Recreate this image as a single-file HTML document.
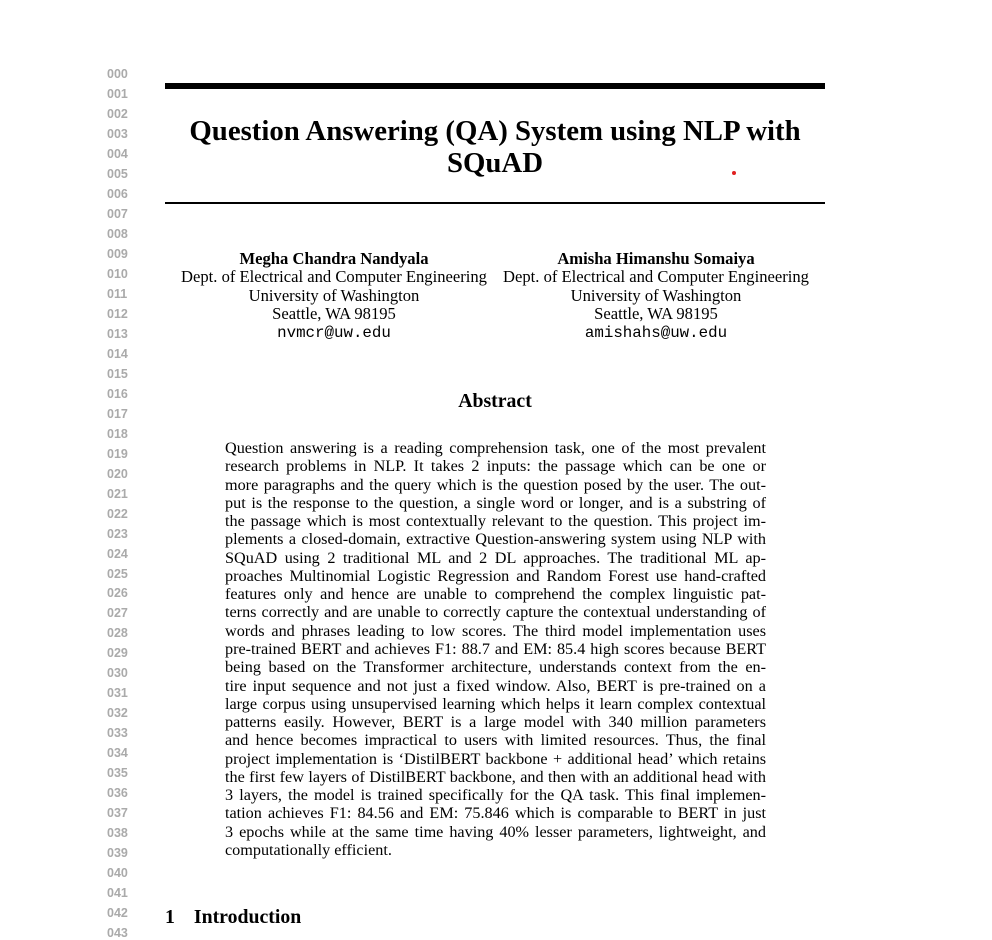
<!DOCTYPE html>
<html><head><meta charset="utf-8"><style>
body{margin:0;width:992px;height:931px;background:#fff;position:relative;overflow:hidden;font-family:"Liberation Serif",serif;color:#000}
.ln{position:absolute;left:107px;font:bold 12.5px "Liberation Sans",sans-serif;color:#aaa;line-height:14px}
.c{position:absolute;text-align:center;white-space:nowrap;line-height:20px;transform:translateX(-50%)}
.ab{position:absolute;left:225px;width:541px;font-size:16.2px;line-height:18px;text-align:justify;text-align-last:justify;white-space:nowrap}
.ab.last{text-align-last:left}
</style></head><body>
<div id="lines"></div>
<div style="position:absolute;left:165px;top:83px;width:660px;height:6px;background:#000"></div>
<div class="c" style="left:495px;top:115px;font-size:28.8px;font-weight:bold;line-height:32px">Question Answering (QA) System using NLP with<br>SQuAD</div>
<div style="position:absolute;left:732px;top:171px;width:4px;height:4px;border-radius:50%;background:#e02020"></div>
<div style="position:absolute;left:165px;top:202px;width:660px;height:1.5px;background:#000"></div>
<div class="c" style="left:334px;top:250px;font-size:16.6px;line-height:18.3px"><b>Megha Chandra Nandyala</b><br>Dept. of Electrical and Computer Engineering<br>University of Washington<br>Seattle, WA 98195<br><span style="font-family:'Liberation Mono',monospace;font-size:15.8px">nvmcr@uw.edu</span></div>
<div class="c" style="left:656px;top:250px;font-size:16.6px;line-height:18.3px"><b>Amisha Himanshu Somaiya</b><br>Dept. of Electrical and Computer Engineering<br>University of Washington<br>Seattle, WA 98195<br><span style="font-family:'Liberation Mono',monospace;font-size:15.8px">amishahs@uw.edu</span></div>
<div class="c" style="left:495px;top:391px;font-size:19.8px;font-weight:bold">Abstract</div>
<div id="abs"></div>
<div style="position:absolute;left:165px;top:906px;font-size:19.8px;font-weight:bold;line-height:22px;white-space:nowrap">1<span style="margin-left:19px">Introduction</span></div>
<script>
const L=document.getElementById('lines');
for(let i=0;i<=43;i++){const d=document.createElement('div');d.className='ln';


d.style.top=(75+i*19.98-8)+'px';d.textContent=String(i).padStart(3,'0');L.appendChild(d);}
const abs=["Question answering is a reading comprehension task, one of the most prevalent","research problems in NLP. It takes 2 inputs: the passage which can be one or","more paragraphs and the query which is the question posed by the user. The out-","put is the response to the question, a single word or longer, and is a substring of","the passage which is most contextually relevant to the question. This project im-","plements a closed-domain, extractive Question-answering system using NLP with","SQuAD using 2 traditional ML and 2 DL approaches. The traditional ML ap-","proaches Multinomial Logistic Regression and Random Forest use hand-crafted","features only and hence are unable to comprehend the complex linguistic pat-","terns correctly and are unable to correctly capture the contextual understanding of","words and phrases leading to low scores. The third model implementation uses","pre-trained BERT and achieves F1: 88.7 and EM: 85.4 high scores because BERT","being based on the Transformer architecture, understands context from the en-","tire input sequence and not just a fixed window. Also, BERT is pre-trained on a","large corpus using unsupervised learning which helps it learn complex contextual","patterns easily. However, BERT is a large model with 340 million parameters","and hence becomes impractical to users with limited resources. Thus, the final","project implementation is \u2018DistilBERT backbone + additional head\u2019 which retains","the first few layers of DistilBERT backbone, and then with an additional head with","3 layers, the model is trained specifically for the QA task. This final implemen-","tation achieves F1: 84.56 and EM: 75.846 which is comparable to BERT in just","3 epochs while at the same time having 40% lesser parameters, lightweight, and","computationally efficient."];
const A=document.getElementById('abs');
abs.forEach((t,i)=>{const d=document.createElement('div');d.className='ab'+(i==abs.length-1?' last':'');


d.style.top=(448+i*18.27-9)+'px';d.textContent=t;A.appendChild(d);});
</script>
</body></html>
